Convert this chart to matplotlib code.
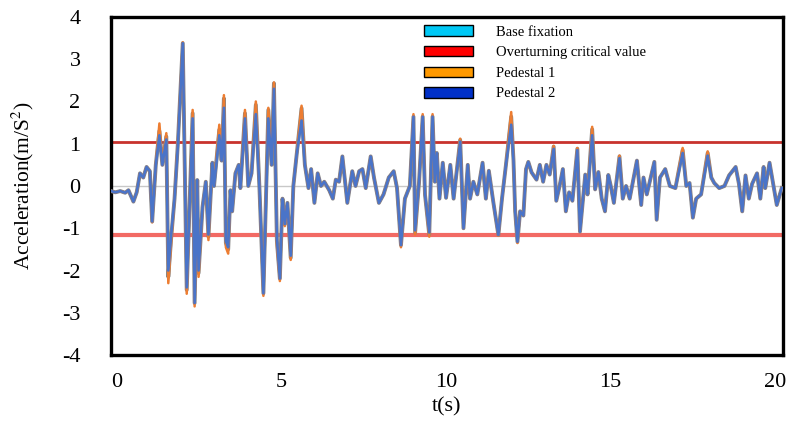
import matplotlib
matplotlib.use('Agg')
import matplotlib.pyplot as plt
from matplotlib.patches import Patch

plt.rcParams['font.family'] = ['Liberation Serif', 'DejaVu Serif']
plt.rcParams['mathtext.fontset'] = 'stix'
plt.rcParams['axes.unicode_minus'] = False

# time (s) at the peaks and troughs
t = [-0.18, -0.05, 0.10, 0.25, 0.35, 0.50, 0.60, 0.70, 0.80, 0.90,
     1.00, 1.07, 1.18, 1.29, 1.38, 1.50, 1.56, 1.65, 1.75, 1.85,
     2.00, 2.12, 2.30, 2.36, 2.44, 2.48, 2.60, 2.70, 2.78, 2.90,
     2.95, 3.11, 3.18, 3.25, 3.31, 3.38, 3.45, 3.50, 3.60, 3.70,
     3.75, 3.89, 3.99, 4.09, 4.22, 4.33, 4.45, 4.60, 4.70, 4.77,
     4.86, 4.95, 5.03, 5.10, 5.18, 5.28, 5.36, 5.46, 5.61, 5.71,
     5.82, 5.90, 6.00, 6.10, 6.20, 6.30, 6.45, 6.56, 6.65, 6.75,
     6.85, 7.00, 7.15, 7.25, 7.36, 7.46, 7.56, 7.71, 7.81, 7.96,
     8.10, 8.26, 8.41, 8.51, 8.63, 8.75, 8.90, 9.01, 9.06, 9.18,
     9.29, 9.36, 9.49, 9.59, 9.66, 9.72, 9.80, 9.90, 10.00, 10.13,
     10.23, 10.43, 10.53, 10.66, 10.73, 10.83, 10.95, 11.11, 11.21, 11.30,
     11.44, 11.59, 11.70, 11.82, 11.98, 12.05, 12.10, 12.17, 12.25, 12.35,
     12.43, 12.50, 12.60, 12.75, 12.85, 12.95, 13.05, 13.15, 13.27, 13.35,
     13.45, 13.55, 13.64, 13.74, 13.84, 13.99, 14.07, 14.23, 14.30, 14.44,
     14.53, 14.63, 14.73, 14.83, 14.93, 15.00, 15.10, 15.27, 15.37, 15.47,
     15.58, 15.80, 15.93, 16.00, 16.10, 16.33, 16.40, 16.50, 16.66, 16.80,
     16.97, 17.19, 17.30, 17.40, 17.50, 17.60, 17.75, 17.95, 18.06, 18.15,
     18.30, 18.46, 18.60, 18.80, 18.90, 19.00, 19.10, 19.20, 19.30, 19.45,
     19.55, 19.65, 19.70, 19.83, 20.05, 20.20]

base_fix = [-0.12, -0.15, -0.12, -0.16, -0.10, -0.37, -0.15, 0.30, 0.20, 0.45,
            0.35, -0.84, 0.50, 1.30, 0.50, 1.17, -2.15, -1.20, -0.30, 1.00,
            3.38, -2.46, 1.72, -2.77, 0.14, -2.06, -0.50, 0.10, -1.20, 0.55,
            0.00, 1.33, 0.60, 2.07, -1.35, -1.50, -0.10, -0.60, 0.30, 0.50,
            -0.05, 1.72, 0.00, 0.30, 1.92, -0.05, -2.54, 1.80, 0.50, 2.43,
            -1.30, -2.19, -0.30, -0.90, -0.40, -1.70, 0.00, 0.74, 1.84, 0.50,
            -0.05, 0.40, -0.40, 0.30, 0.00, 0.10, -0.10, -0.30, 0.15, 0.10,
            0.70, -0.40, 0.35, 0.00, 0.35, 0.40, -0.05, 0.70, 0.20, -0.40,
            -0.20, 0.20, 0.35, -0.05, -1.40, -0.30, 0.00, 1.64, -1.10, 0.10,
            1.64, -0.20, -1.15, 1.64, 0.10, 0.78, -0.30, 0.55, -0.28, 0.50,
            -0.30, 1.09, -1.00, 0.50, -0.30, 0.10, -0.20, 0.55, -0.30, 0.36,
            -0.40, -1.16, -0.30, 0.50, 1.64, 0.60, -0.60, -1.32, -0.60, -0.70,
            0.40, 0.57, 0.32, 0.15, 0.50, 0.10, 0.50, 0.27, 0.93, -0.35,
            0.00, 0.40, -0.60, -0.15, -0.35, 0.88, -1.08, 0.27, -0.20, 1.34,
            -0.08, 0.33, -0.30, -0.60, 0.26, 0.02, -0.40, 0.70, -0.30, 0.00,
            -0.30, 0.60, -0.45, 0.20, -0.20, 0.57, -0.80, 0.20, 0.40, 0.00,
            -0.05, 0.85, 0.00, 0.07, -0.75, -0.30, -0.20, 0.78, 0.20, 0.07,
            -0.05, 0.00, 0.25, 0.45, 0.05, -0.60, 0.25, -0.30, 0.05, 0.30,
            -0.30, 0.45, -0.05, 0.55, -0.45, -0.05]

pedestal1 = [-0.12, -0.15, -0.12, -0.16, -0.10, -0.37, -0.15, 0.30, 0.20, 0.45,
             0.35, -0.86, 0.50, 1.48, 0.50, 1.25, -2.30, -1.30, -0.30, 1.05,
             3.40, -2.55, 1.80, -2.85, 0.14, -2.15, -0.50, 0.10, -1.28, 0.55,
             0.00, 1.45, 0.60, 2.15, -1.45, -1.60, -0.10, -0.60, 0.30, 0.50,
             -0.05, 1.80, 0.00, 0.30, 2.00, -0.05, -2.60, 1.85, 0.50, 2.45,
             -1.40, -2.25, -0.30, -0.95, -0.40, -1.75, 0.00, 0.74, 1.90, 0.50,
             -0.05, 0.40, -0.40, 0.30, 0.00, 0.10, -0.10, -0.30, 0.15, 0.10,
             0.70, -0.40, 0.35, 0.00, 0.35, 0.40, -0.05, 0.70, 0.20, -0.40,
             -0.20, 0.20, 0.35, -0.05, -1.45, -0.30, 0.00, 1.70, -1.15, 0.10,
             1.70, -0.20, -1.20, 1.70, 0.10, 0.78, -0.30, 0.55, -0.28, 0.50,
             -0.30, 1.12, -1.00, 0.50, -0.30, 0.10, -0.20, 0.55, -0.30, 0.36,
             -0.40, -1.18, -0.30, 0.50, 1.75, 0.60, -0.60, -1.35, -0.60, -0.70,
             0.40, 0.57, 0.32, 0.15, 0.50, 0.10, 0.50, 0.27, 0.95, -0.35,
             0.00, 0.40, -0.60, -0.15, -0.35, 0.90, -1.08, 0.27, -0.20, 1.40,
             -0.08, 0.33, -0.30, -0.60, 0.26, 0.02, -0.40, 0.72, -0.30, 0.00,
             -0.30, 0.60, -0.45, 0.20, -0.20, 0.57, -0.80, 0.20, 0.40, 0.00,
             -0.05, 0.90, 0.00, 0.07, -0.75, -0.30, -0.20, 0.82, 0.20, 0.07,
             -0.05, 0.00, 0.25, 0.45, 0.05, -0.60, 0.25, -0.30, 0.05, 0.30,
             -0.30, 0.45, -0.05, 0.55, -0.45, -0.05]

pedestal2 = [-0.12, -0.15, -0.12, -0.16, -0.10, -0.37, -0.15, 0.30, 0.20, 0.45,
             0.35, -0.84, 0.50, 1.20, 0.50, 1.10, -2.00, -1.15, -0.30, 0.95,
             3.38, -2.40, 1.60, -2.77, 0.14, -2.00, -0.50, 0.10, -1.15, 0.55,
             0.00, 1.20, 0.60, 1.85, -1.30, -1.45, -0.10, -0.60, 0.30, 0.50,
             -0.05, 1.60, 0.00, 0.30, 1.70, -0.05, -2.54, 1.60, 0.50, 2.30,
             -1.25, -2.19, -0.30, -0.90, -0.40, -1.65, 0.00, 0.74, 1.55, 0.50,
             -0.05, 0.40, -0.40, 0.30, 0.00, 0.10, -0.10, -0.30, 0.15, 0.10,
             0.70, -0.40, 0.35, 0.00, 0.35, 0.40, -0.05, 0.70, 0.20, -0.40,
             -0.20, 0.20, 0.35, -0.05, -1.40, -0.30, 0.00, 1.64, -1.05, 0.10,
             1.64, -0.20, -1.10, 1.64, 0.10, 0.78, -0.30, 0.55, -0.28, 0.50,
             -0.30, 1.05, -1.00, 0.50, -0.30, 0.10, -0.20, 0.55, -0.30, 0.36,
             -0.40, -1.16, -0.30, 0.50, 1.45, 0.60, -0.60, -1.32, -0.60, -0.70,
             0.40, 0.57, 0.32, 0.15, 0.50, 0.10, 0.50, 0.27, 0.88, -0.35,
             0.00, 0.40, -0.60, -0.15, -0.35, 0.85, -1.08, 0.27, -0.20, 1.20,
             -0.08, 0.33, -0.30, -0.60, 0.26, 0.02, -0.40, 0.66, -0.30, 0.00,
             -0.30, 0.60, -0.45, 0.20, -0.20, 0.57, -0.80, 0.20, 0.40, 0.00,
             -0.05, 0.78, 0.00, 0.07, -0.75, -0.30, -0.20, 0.72, 0.20, 0.07,
             -0.05, 0.00, 0.25, 0.45, 0.05, -0.60, 0.25, -0.30, 0.05, 0.30,
             -0.30, 0.45, -0.05, 0.55, -0.45, -0.05]

critical_upper = 1.05
critical_lower = -1.15

legend_labels = ['Base fixation', 'Overturning critical value', 'Pedestal 1', 'Pedestal 2']
legend_colors = ['#00c8f5', '#ff0000', '#ff9900', '#0030c8']

fig = plt.figure(figsize=(7.88, 4.24), dpi=100)
ax = fig.add_axes([0.1409, 0.1627, 0.8528, 0.7973])

ax.axhline(0, color='#c8c8c8', lw=1, zorder=1)
ax.axhline(critical_upper, color='#c8322d', lw=2, zorder=2)
ax.axhline(critical_lower, color='#f26a64', lw=3, zorder=2)

ax.plot(t, base_fix, color='#858585', lw=2.8, zorder=3)
ax.plot(t, pedestal1, color='#ed7d31', lw=1.8, zorder=4)
ax.plot(t, pedestal2, color='#4a74c8', lw=1.9, zorder=5)

ax.set_xlim(-0.18, 20.24)
ax.set_ylim(-4, 4)
ax.set_xticks([0, 5, 10, 15, 20])
ax.set_yticks([4, 3, 2, 1, 0, -1, -2, -3, -4])
ax.tick_params(axis='both', length=0, labelsize=16)
ax.tick_params(axis='y', pad=22)
ax.tick_params(axis='x', pad=13)
for s in ax.spines.values():
    s.set_linewidth(2.4)
    s.set_color('black')

ax.set_xlabel('t(s)', fontsize=16, labelpad=4)
ax.set_ylabel(r'Acceleration(m/S$^{2}$)', fontsize=15.5)
ax.yaxis.set_label_coords(-0.112, 0.5)

handles = [Patch(facecolor=c, edgecolor='black', lw=1) for c in legend_colors]
ax.legend(handles, legend_labels, loc='upper left', bbox_to_anchor=(0.465, 0.975),
          frameon=False, fontsize=10.5, handlelength=3.4, handleheight=0.72,
          handletextpad=1.6, labelspacing=0.5, borderaxespad=0, borderpad=0)

plt.savefig('out.png', dpi=100)
